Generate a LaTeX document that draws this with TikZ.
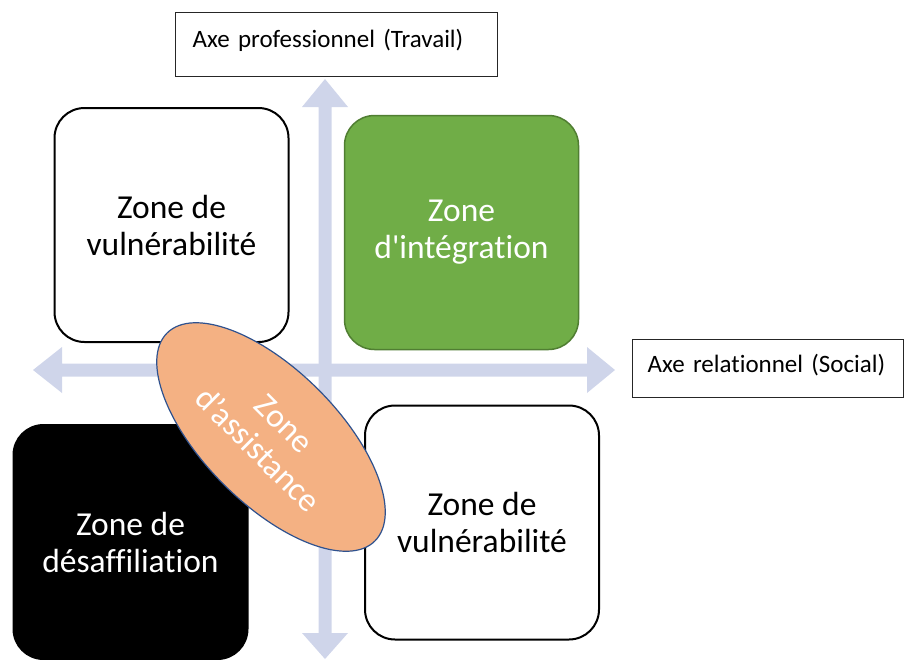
\documentclass[tikz,border=0pt]{standalone}
\usepackage{fontspec}
\setmainfont{Carlito}[Ligatures={TeXOff,CommonOff}]
\usetikzlibrary{shapes.geometric}

\definecolor{axeblue}{RGB}{207,213,234}
\definecolor{integgreen}{HTML}{70AD47}
\definecolor{integborder}{HTML}{507E32}
\definecolor{assistfill}{HTML}{F4B183}
\definecolor{assistborder}{HTML}{2F528F}

\begin{document}
\begin{tikzpicture}[x=1pt, y=-1pt,
    zone/.style = {rectangle, rounded corners=30pt, draw=black, line width=2pt,
minimum width=234pt, minimum height=234pt, align=center,
font=\fontsize{33.5}{37}\selectfont},
    axelabel/.style = {rectangle, draw=black!85, line width=1.3pt, inner ysep=0pt,
align=left, anchor=north west, font=\fontsize{25}{30}\selectfont},
    axe/.style = {fill=axeblue}
]
  \useasboundingbox (0,0) rectangle (905,659);

  % axes
  \fill[axe] (325,79) -- ++(23,28) -- ++(-16.5,0) -- ++(0,526) -- ++(16.5,0) -- ++(-23,26)
             -- ++(-23,-26) -- ++(16.5,0) -- ++(0,-526) -- ++(-16.5,0) -- cycle;
  \fill[axe] (33,370) -- ++(29,-23) -- ++(0,16.5) -- ++(525,0) -- ++(0,-16.5) -- ++(28,23)
             -- ++(-28,23) -- ++(0,-16.5) -- ++(-525,0) -- ++(0,16.5) -- cycle;

  \node (axepro) [axelabel, text width=288pt, inner xsep=17pt, text height=35pt, text depth=29pt] at (175,12) {Axe professionnel (Travail)};
  \node (axerel) [axelabel, text width=241pt, inner xsep=15pt, text height=33pt, text depth=25pt] at (632,339) {Axe relationnel (Social)};

  % zones
  \node (vulnhaut) [zone] at (171.5,225) {Zone de\\vulnérabilité};
  \node (integ)    [zone, fill=integgreen, draw=integborder, line width=1.5pt, text=white] at (461.5,232.5) {Zone\\d'intégration};
  \node (desaff)   [zone, fill=black, text=white] at (130.5,542) {Zone de\\désaffiliation};
  \node (vulnbas)  [zone] at (482,522.5) {Zone de\\vulnérabilité};

  \node (assist) [ellipse, draw=assistborder, line width=1.2pt, fill=assistfill, text=white,
    minimum width=294pt, minimum height=134pt, inner sep=0pt, rotate=-45, align=center,
    font=\fontsize{33.5}{37}\selectfont] at (271,437) {Zone\\d’assistance};

\end{tikzpicture}
\end{document}
